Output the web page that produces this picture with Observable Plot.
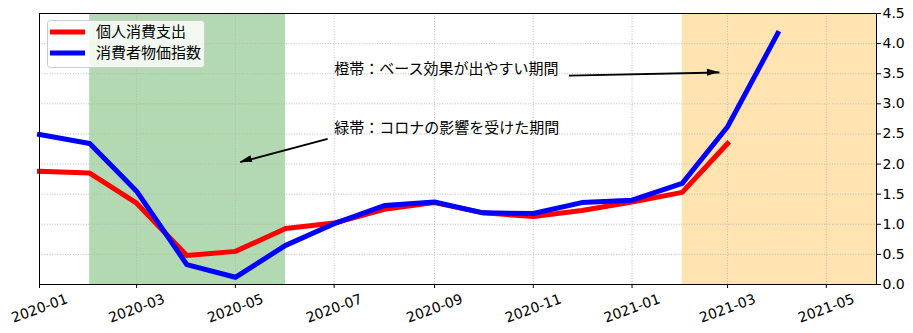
<!DOCTYPE html>
<html>
<head>
<meta charset="utf-8">
<script src="https://cdn.jsdelivr.net/npm/d3@7"></script>
<script src="https://cdn.jsdelivr.net/npm/@observablehq/plot@0.6"></script>
<style>
  body { margin: 0; background: #fff; }
  #chart { position: relative; width: 913px; height: 333px; }
</style>
</head>
<body>
<div id="chart"></div>
<script>
// ---- data ----
const months = ["2020-01","2020-02","2020-03","2020-04","2020-05","2020-06","2020-07","2020-08",
                "2020-09","2020-10","2020-11","2020-12","2021-01","2021-02","2021-03","2021-04"];
const pce = [1.88,1.85,1.35,0.48,0.55,0.93,1.02,1.25,1.36,1.19,1.13,1.23,1.37,1.53,2.34];
const cpi = [2.49,2.34,1.55,0.33,0.12,0.65,1.01,1.31,1.37,1.19,1.18,1.36,1.40,1.68,2.62,4.17];
const seriesNames = ["個人消費支出","消費者物価指数"];
const seriesColors = ["#ff0000","#0000ff"];
const xTickLabels = ["2020-01","2020-03","2020-05","2020-07","2020-09","2020-11","2021-01","2021-03","2021-05"];
const yTicks = [0,0.5,1,1.5,2,2.5,3,3.5,4,4.5];
const bandStarts = ["2020-02-01","2021-02-01"];
const bandEnds = ["2020-06-01","2021-06-01"];
const bandColors = ["#b3d9b3","#ffe4b2"];
const noteTexts = ["橙帯：ベース効果が出やすい期間","緑帯：コロナの影響を受けた期間"];
const noteX = ["2020-07-01","2020-07-01"];
const noteY = [3.58,2.59];
const arrowFromX = ["2020-11-23","2020-06-27"];
const arrowFromY = [3.47,2.42];
const arrowToX = ["2021-02-24","2020-05-04"];
const arrowToY = [3.52,2.03];

const parseM = d3.utcParse("%Y-%m");
const parseD = d3.utcParse("%Y-%m-%d");
const pceData = pce.map((v,i)=>({date: parseM(months[i]), v}));
const cpiData = cpi.map((v,i)=>({date: parseM(months[i]), v}));
const tickDates = xTickLabels.map(parseM);
const bands = bandStarts.map((s,i)=>({x1: parseD(s), x2: parseD(bandEnds[i]), fill: bandColors[i]}));
const notes = noteTexts.map((t,i)=>({x: parseD(noteX[i]), y: noteY[i], text: t}));
const arrows = arrowFromX.map((s,i)=>({x1: parseD(s), y1: arrowFromY[i], x2: parseD(arrowToX[i]), y2: arrowToY[i]}));

const tickFont = "DejaVu Sans, sans-serif";
const jpFont = "'Noto Sans CJK JP', sans-serif";

const chart = Plot.plot({
  width: 913,
  height: 333,
  marginLeft: 39,
  marginRight: 37,
  marginTop: 13,
  marginBottom: 49,
  style: {fontFamily: tickFont, fontSize: "14px", background: "#fff", overflow: "visible"},
  x: {type: "utc", domain: [parseM("2020-01"), parseM("2021-06")], axis: null},
  y: {domain: [0, 4.5], axis: null},
  marks: [
    Plot.rect(bands, {x1: "x1", x2: "x2", fill: "fill"}),
    Plot.gridX(tickDates, {stroke: "#b0b0b0", strokeOpacity: 1, strokeWidth: 0.8, strokeDasharray: "1,1.6"}),
    Plot.gridY(yTicks, {stroke: "#b0b0b0", strokeOpacity: 1, strokeWidth: 0.8, strokeDasharray: "1,1.6"}),
    Plot.line(pceData, {x: "date", y: "v", stroke: seriesColors[0], strokeWidth: 5, strokeLinecap: "square", strokeLinejoin: "round"}),
    Plot.line(cpiData, {x: "date", y: "v", stroke: seriesColors[1], strokeWidth: 5, strokeLinecap: "square", strokeLinejoin: "round"}),
    Plot.link(arrows, {x1: "x1", y1: "y1", x2: "x2", y2: "y2", stroke: "#000", strokeWidth: 1.8}),
    Plot.text(notes, {x: "x", y: "y", text: "text", textAnchor: "start", lineAnchor: "middle",
      fontFamily: jpFont, fontSize: 15, fill: "#000"}),
    Plot.axisX({ticks: tickDates, tickSize: 4, tickFormat: () => "", stroke: "#000"}),
    Plot.text(tickDates, {x: d => d, frameAnchor: "bottom", dy: 24, rotate: -20,
      text: d => d3.utcFormat("%Y-%m")(d), textAnchor: "middle", lineAnchor: "middle",
      fontFamily: tickFont, fontSize: 14, fill: "#000"}),
    Plot.axisY({anchor: "right", ticks: yTicks, tickSize: 4, tickPadding: 2,
      tickFormat: d => d.toFixed(1), fontFamily: tickFont, fontSize: 14, fill: "#000", stroke: "#000"}),
    Plot.frame({stroke: "#000", strokeWidth: 1})
  ]
});

document.getElementById("chart").appendChild(chart);

// filled arrowheads placed with the plot's own scales
const sx = chart.scale("x"), sy = chart.scale("y");
const svg = d3.select(chart);
arrows.forEach(a => {
  const X1 = sx.apply(a.x1), Y1 = sy.apply(a.y1);
  const X2 = sx.apply(a.x2), Y2 = sy.apply(a.y2);
  const ang = Math.atan2(Y2 - Y1, X2 - X1);
  const L = 12, W = 3.6;
  const bx = X2 - L * Math.cos(ang), by = Y2 - L * Math.sin(ang);
  const px = -Math.sin(ang) * W, py = Math.cos(ang) * W;
  svg.append("polygon")
    .attr("points", `${X2},${Y2} ${bx+px},${by+py} ${bx-px},${by-py}`)
    .attr("fill", "#000");
});

// legend
const lg = svg.append("g").attr("font-family", jpFont).attr("font-size", 15).attr("text-anchor", "start");
lg.append("rect").attr("x", 47.5).attr("y", 20.5).attr("width", 157).attr("height", 47).attr("rx", 3)
  .attr("fill", "#fff").attr("fill-opacity", 0.8).attr("stroke", "#cccccc").attr("stroke-width", 1);
seriesNames.forEach((name, i) => {
  const cy = 32 + i * 21;
  lg.append("line").attr("x1", 50).attr("x2", 85).attr("y1", cy).attr("y2", cy)
    .attr("stroke", seriesColors[i]).attr("stroke-width", 5);
  lg.append("text").attr("x", 96).attr("y", cy).attr("dy", "0.36em")
    .attr("text-anchor", "start").attr("fill", "#000").text(name);
});
</script>
</body>
</html>
